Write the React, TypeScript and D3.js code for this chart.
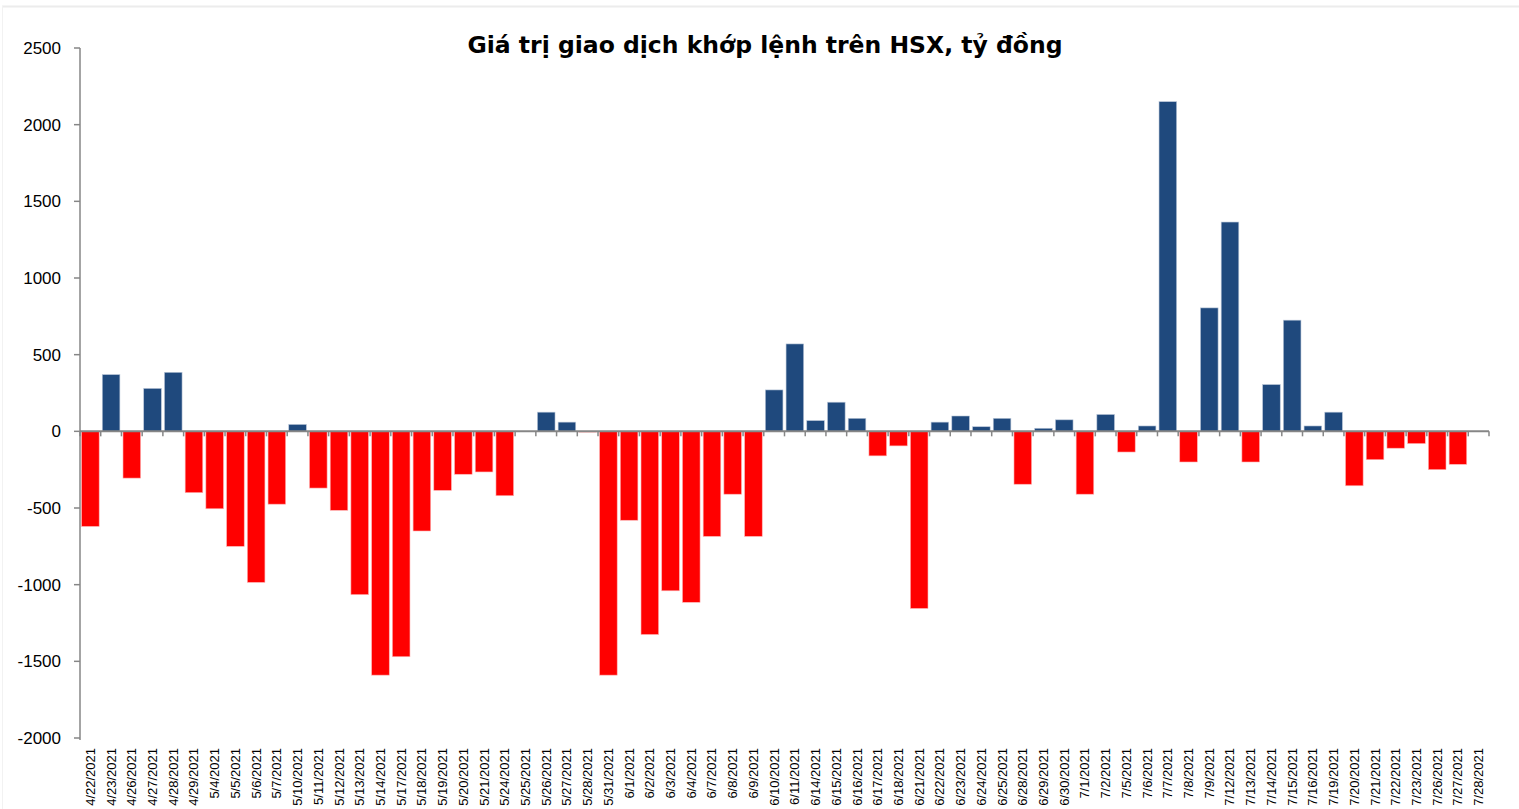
import React from 'react';
import * as d3 from 'd3';

const dates = [
  '4/22/2021', '4/23/2021', '4/26/2021', '4/27/2021', '4/28/2021', '4/29/2021',
  '5/4/2021', '5/5/2021', '5/6/2021', '5/7/2021', '5/10/2021', '5/11/2021', '5/12/2021',
  '5/13/2021', '5/14/2021', '5/17/2021', '5/18/2021', '5/19/2021', '5/20/2021', '5/21/2021',
  '5/24/2021', '5/25/2021', '5/26/2021', '5/27/2021', '5/28/2021', '5/31/2021',
  '6/1/2021', '6/2/2021', '6/3/2021', '6/4/2021', '6/7/2021', '6/8/2021', '6/9/2021',
  '6/10/2021', '6/11/2021', '6/14/2021', '6/15/2021', '6/16/2021', '6/17/2021', '6/18/2021',
  '6/21/2021', '6/22/2021', '6/23/2021', '6/24/2021', '6/25/2021', '6/28/2021', '6/29/2021',
  '6/30/2021', '7/1/2021', '7/2/2021', '7/5/2021', '7/6/2021', '7/7/2021', '7/8/2021',
  '7/9/2021', '7/12/2021', '7/13/2021', '7/14/2021', '7/15/2021', '7/16/2021', '7/19/2021',
  '7/20/2021', '7/21/2021', '7/22/2021', '7/23/2021', '7/26/2021', '7/27/2021', '7/28/2021',
];

// net matched value, billion VND
const values = [
  -620, 370, -305, 280, 385, -400,
  -505, -750, -985, -475, 45, -370, -515,
  -1065, -1590, -1470, -650, -385, -280, -265,
  -420, 0, 125, 60, -5, -1590,
  -580, -1325, -1040, -1115, -685, -410, -685,
  270, 570, 70, 190, 85, -160, -95,
  -1155, 60, 100, 30, 85, -345, 20,
  75, -410, 110, -135, 35, 2150, -200,
  805, 1365, -200, 305, 725, 35, 125,
  -355, -185, -110, -80, -250, -215, 0,
];

const yTicks = [2500, 2000, 1500, 1000, 500, 0, -500, -1000, -1500, -2000];

const title = 'Giá trị giao dịch khớp lệnh trên HSX, tỷ đồng';

const W = 1519;
const H = 809;
const left = 80;
const right = 1489;

export default function App() {
  const x = d3.scaleBand<string>()
    .domain(dates)
    .range([left, right])
    .paddingInner(0.15)
    .paddingOuter(0.075);

  const y = d3.scaleLinear()
    .domain([-2000, 2500])
    .range([738, 48]);

  const step = x.step();
  const axisColor = '#868686';
  const font = 'Liberation Sans, Arial, sans-serif';

  return (
    <div style={{ position: 'absolute', left: 0, top: 0 }}>
      <svg width={W} height={H} style={{ display: 'block', background: '#fff' }}>
        {/* faint outer frame, top and left only */}
        <line x1={2} x2={W} y1={6.5} y2={6.5} stroke="#ececec" strokeWidth={2} />
        <line x1={2.5} x2={2.5} y1={6} y2={H} stroke="#f2f2f2" strokeWidth={1} />

        <text
          x={765}
          y={53}
          textAnchor="middle"
          fontFamily="DejaVu Sans, sans-serif"
          fontWeight="bold"
          fontSize={23}
          textLength={595}
          lengthAdjust="spacingAndGlyphs"
          fill="#000"
        >
          {title}
        </text>

        {/* bars */}
        {dates.map((d, i) => {
          const v = values[i];
          if (v === 0) return null;
          const y0 = y(0);
          const y1 = y(v);
          return (
            <rect
              key={d}
              x={x(d)}
              y={Math.min(y0, y1)}
              width={x.bandwidth()}
              height={Math.abs(y1 - y0)}
              fill={v > 0 ? '#1F497D' : '#FF0000'}
              stroke={v > 0 ? '#b9c6d8' : '#ffb3b3'}
              strokeWidth={0.6}
            />
          );
        })}

        {/* y axis */}
        <line x1={left} x2={left} y1={y(2500)} y2={y(-2000) + 2} stroke={axisColor} strokeWidth={1.5} />
        {yTicks.map((t) => (
          <g key={t}>
            <line x1={left - 6} x2={left} y1={y(t)} y2={y(t)} stroke={axisColor} strokeWidth={1.5} />
            <text
              x={61}
              y={y(t)}
              dy="0.36em"
              textAnchor="end"
              fontFamily={font}
              fontSize={17}
              fill="#000"
            >
              {t}
            </text>
          </g>
        ))}

        {/* x axis at zero */}
        <line x1={left} x2={right} y1={y(0)} y2={y(0)} stroke={axisColor} strokeWidth={2} />
        {d3.range(dates.length + 1).map((i) => (
          <line
            key={i}
            x1={left + i * step}
            x2={left + i * step}
            y1={y(0)}
            y2={y(0) + 5}
            stroke={axisColor}
            strokeWidth={1.5}
          />
        ))}

        {/* rotated date labels */}
        {dates.map((d) => {
          const cx = (x(d) ?? 0) + x.bandwidth() / 2;
          return (
            <text
              key={d}
              transform={`translate(${cx + 4.5},748) rotate(-90)`}
              textAnchor="end"
              fontFamily={font}
              fontSize={13}
              fill="#000"
            >
              {d}
            </text>
          );
        })}
      </svg>
    </div>
  );
}
